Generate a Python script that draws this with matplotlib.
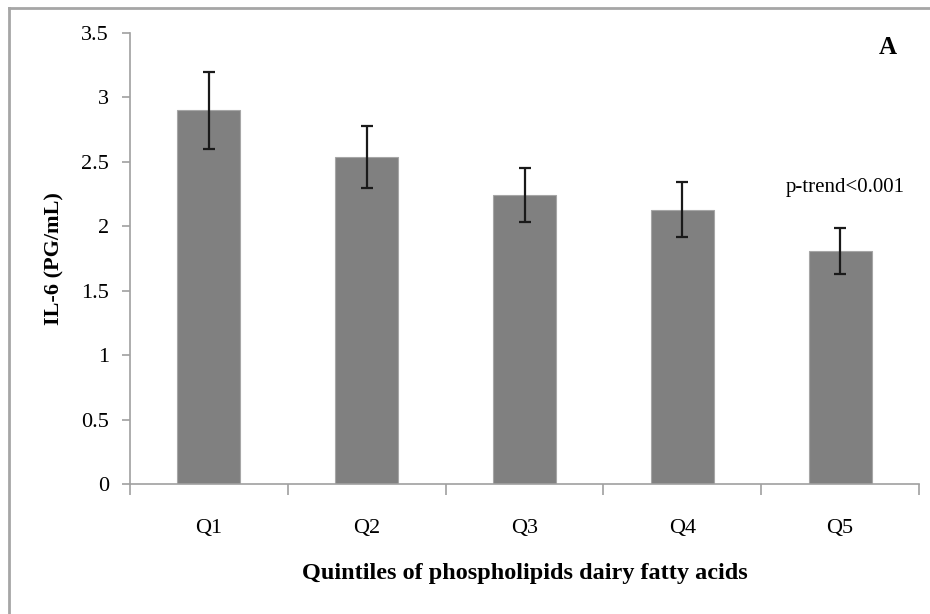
import matplotlib
matplotlib.use("Agg")
import matplotlib.pyplot as plt
from matplotlib.lines import Line2D
from matplotlib.ticker import FuncFormatter, FixedLocator

categories = ["Q1", "Q2", "Q3", "Q4", "Q5"]
il6_means = [2.90, 2.54, 2.24, 2.13, 1.81]
il6_err = [0.30, 0.24, 0.21, 0.21, 0.18]
yticks = [0, 0.5, 1, 1.5, 2, 2.5, 3, 3.5]

plt.rcParams['font.family'] = ['Liberation Serif', 'DejaVu Serif']

fig = plt.figure(figsize=(9.3, 6.14), dpi=100)
ax = fig.add_axes([130/930, 1-484/614, (919-130)/930, (484-33)/614])

x = list(range(len(categories)))
ax.bar(x, il6_means, width=0.4, color="#808080", edgecolor="#a6a6a6", linewidth=0.8, zorder=2)
ax.errorbar(x, il6_means, yerr=il6_err, fmt="none", ecolor="#1a1a1a",
            elinewidth=1.6, capsize=4, capthick=1.6, zorder=3)

ax.set_xlim(-0.5, len(categories) - 0.5)
ax.set_ylim(0, 3.5)
ax.set_yticks(yticks)
ax.yaxis.set_major_formatter(FuncFormatter(lambda v, p: f"{v:g}"))
ax.set_xticks(x)
ax.set_xticklabels(categories)
ax.xaxis.set_minor_locator(FixedLocator([i - 0.5 for i in range(len(categories) + 1)]))
ax.tick_params(axis="x", which="major", length=0, pad=25, labelsize=16)
ax.tick_params(axis="x", which="minor", length=8, width=1.2, color="#a0a0a0", direction="out")
ax.tick_params(axis="y", which="major", length=6, width=1.2, color="#a0a0a0", pad=9, labelsize=16)

for s in ["top", "right"]:
    ax.spines[s].set_visible(False)
for s in ["left", "bottom"]:
    ax.spines[s].set_color("#a0a0a0")
    ax.spines[s].set_linewidth(1.2)

ax.set_ylabel("IL-6 (PG/mL)", fontsize=16, fontweight="bold", labelpad=12)
ax.set_xlabel("Quintiles of phospholipids dairy fatty acids", fontsize=17.5, fontweight="bold", labelpad=18)

ax.text(4.03, 2.30, "p-trend<0.001", ha="center", va="center", fontsize=15)
fig.text(888/930, 1-48/614, "A", ha="center", va="center", fontsize=18, fontweight="bold")

# outer frame (left and top edges visible)
fig.add_artist(Line2D([9/930, 9/930], [0, 1-8/614], transform=fig.transFigure, color="#a6a6a6", linewidth=2))
fig.add_artist(Line2D([9/930, 1], [1-8/614, 1-8/614], transform=fig.transFigure, color="#a6a6a6", linewidth=2))

fig.savefig("out.png", dpi=100)
